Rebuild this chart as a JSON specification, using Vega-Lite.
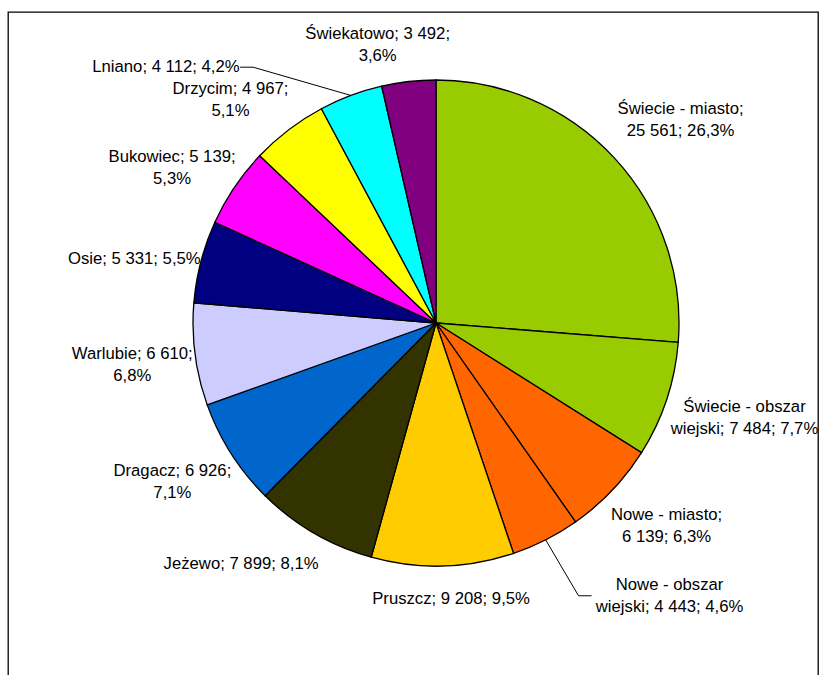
{
  "$schema": "https://vega.github.io/schema/vega-lite/v6.json",
  "width": 810,
  "height": 680,
  "autosize": {"type": "none"},
  "padding": {"left": 8, "top": 12, "right": 1, "bottom": 0},
  "background": "white",
  "config": {
    "view": {"stroke": "black", "strokeWidth": 1.3},
    "text": {"font": "Liberation Sans"}
  },
  "params": [
    {"name": "cx", "value": 428},
    {"name": "cy", "value": 311},
    {"name": "R", "value": 243},
    {"name": "Rx", "value": 237},
    {"name": "Ry", "value": 250}
  ],
  "data": {
    "values": [
      {"nr": 1, "gmina": "Świecie - miasto", "ludnosc": 25561, "etykieta": "Świecie - miasto;\n25 561; 26,3%"},
      {"nr": 2, "gmina": "Świecie - obszar wiejski", "ludnosc": 7484, "etykieta": "Świecie - obszar\nwiejski; 7 484; 7,7%"},
      {"nr": 3, "gmina": "Nowe - miasto", "ludnosc": 6139, "etykieta": "Nowe - miasto;\n6 139; 6,3%"},
      {"nr": 4, "gmina": "Nowe - obszar wiejski", "ludnosc": 4443, "etykieta": "Nowe - obszar\nwiejski; 4 443; 4,6%"},
      {"nr": 5, "gmina": "Pruszcz", "ludnosc": 9208, "etykieta": "Pruszcz; 9 208; 9,5%"},
      {"nr": 6, "gmina": "Jeżewo", "ludnosc": 7899, "etykieta": "Jeżewo; 7 899; 8,1%"},
      {"nr": 7, "gmina": "Dragacz", "ludnosc": 6926, "etykieta": "Dragacz; 6 926;\n7,1%"},
      {"nr": 8, "gmina": "Warlubie", "ludnosc": 6610, "etykieta": "Warlubie; 6 610;\n6,8%"},
      {"nr": 9, "gmina": "Osie", "ludnosc": 5331, "etykieta": "Osie; 5 331; 5,5%"},
      {"nr": 10, "gmina": "Bukowiec", "ludnosc": 5139, "etykieta": "Bukowiec; 5 139;\n5,3%"},
      {"nr": 11, "gmina": "Drzycim", "ludnosc": 4967, "etykieta": "Drzycim; 4 967;\n5,1%"},
      {"nr": 12, "gmina": "Lniano", "ludnosc": 4112, "etykieta": "Lniano; 4 112; 4,2%"},
      {"nr": 13, "gmina": "Świekatowo", "ludnosc": 3492, "etykieta": "Świekatowo; 3 492;\n3,6%"}
    ]
  },
  "transform": [
    {"joinaggregate": [{"op": "sum", "field": "ludnosc", "as": "suma"}]},
    {"window": [{"op": "sum", "field": "ludnosc", "as": "narast"}], "sort": [{"field": "nr"}], "frame": [null, 0]},
    {"calculate": "2 * PI * (datum.narast - datum.ludnosc / 2) / datum.suma", "as": "kat"},
    {"calculate": "sin(datum.kat)", "as": "s"},
    {"calculate": "cos(datum.kat)", "as": "c"},
    {"calculate": "split(datum.etykieta, '\\n')", "as": "linie"},
    {"calculate": "7.6 * max(length(datum.linie[0]), length(datum.linie[length(datum.linie) - 1])) / 2", "as": "hw"},
    {"calculate": "11 * length(datum.linie)", "as": "hh"},
    {"calculate": "datum.gmina === 'Lniano' ? -112 : datum.gmina === 'Nowe - obszar wiejski' ? 47 : 0", "as": "przes_x"},
    {"calculate": "datum.gmina === 'Lniano' ? -6 : datum.gmina === 'Nowe - obszar wiejski' ? 12 : datum.gmina === 'Świecie - miasto' ? -14 : 0", "as": "przes_y"},
    {"calculate": "cx + datum.s * (Rx + 8) + clamp(4 * datum.s, -1, 1) * datum.hw + datum.przes_x", "as": "lx"},
    {"calculate": "cy + 5 - datum.c * (Ry + 8) + clamp(-1.3 * datum.c, -1.2, 1.2) * datum.hh + datum.przes_y", "as": "ly"},
    {"calculate": "datum.ly - 11 * (length(datum.linie) - 1)", "as": "ty"},
    {"calculate": "cx + R * datum.s", "as": "px"},
    {"calculate": "cy - R * datum.c", "as": "py"},
    {"calculate": "datum.lx - (datum.przes_x > 0 ? 1 : -1) * (datum.hw + 15)", "as": "ex"},
    {"calculate": "datum.lx - (datum.przes_x > 0 ? 1 : -1) * (datum.hw + 2)", "as": "kx"}
  ],
  "layer": [
    {
      "mark": {
        "type": "arc",
        "x": {"expr": "cx"},
        "y": {"expr": "cy"},
        "outerRadius": {"expr": "R"},
        "stroke": "black",
        "strokeWidth": 1.3
      },
      "encoding": {
        "theta": {"field": "ludnosc", "type": "quantitative", "stack": true},
        "order": {"field": "nr", "type": "quantitative"},
        "color": {
          "field": "gmina",
          "type": "nominal",
          "legend": null,
          "scale": {
            "domain": ["Świecie - miasto", "Świecie - obszar wiejski", "Nowe - miasto", "Nowe - obszar wiejski", "Pruszcz", "Jeżewo", "Dragacz", "Warlubie", "Osie", "Bukowiec", "Drzycim", "Lniano", "Świekatowo"],
            "range": ["#99CC00", "#99CC00", "#FF6600", "#FF6600", "#FFCC00", "#333300", "#0066CC", "#CCCCFF", "#000080", "#FF00FF", "#FFFF00", "#00FFFF", "#800080"]
          }
        }
      }
    },
    {
      "transform": [{"filter": "datum.przes_x != 0"}],
      "mark": {"type": "rule", "color": "black", "strokeWidth": 1},
      "encoding": {
        "x": {"field": "px", "type": "quantitative", "scale": null, "axis": null},
        "y": {"field": "py", "type": "quantitative", "scale": null, "axis": null},
        "x2": {"field": "ex"},
        "y2": {"field": "ly"}
      }
    },
    {
      "transform": [{"filter": "datum.przes_x != 0"}],
      "mark": {"type": "rule", "color": "black", "strokeWidth": 1},
      "encoding": {
        "x": {"field": "ex", "type": "quantitative", "scale": null, "axis": null},
        "y": {"field": "ly", "type": "quantitative", "scale": null, "axis": null},
        "x2": {"field": "kx"}
      }
    },
    {
      "mark": {
        "type": "text",
        "align": "center",
        "baseline": "middle",
        "fontSize": 16.7,
        "lineHeight": 22,
        "lineBreak": "\n",
        "color": "black"
      },
      "encoding": {
        "x": {"field": "lx", "type": "quantitative", "scale": null, "axis": null},
        "y": {"field": "ty", "type": "quantitative", "scale": null, "axis": null},
        "text": {"field": "etykieta", "type": "nominal"}
      }
    }
  ]
}
